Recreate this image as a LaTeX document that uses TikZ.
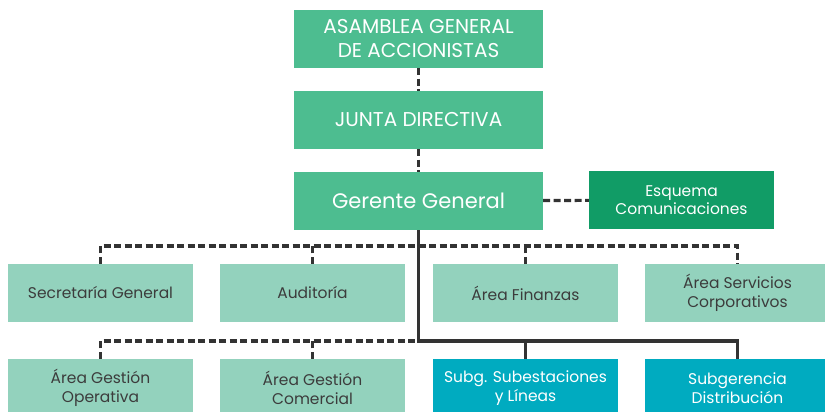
\documentclass[tikz,border=0pt]{standalone}
\usepackage{fontspec}
\setmainfont{Poppins}
\usetikzlibrary{positioning}

\definecolor{verde}{HTML}{4DBD90}
\definecolor{verdeosc}{HTML}{119C66}
\definecolor{verdecl}{HTML}{93D2BD}
\definecolor{turq}{HTML}{00ABC0}
\definecolor{linea}{HTML}{333333}
\definecolor{texto}{HTML}{3C3C3C}

\begin{document}
\begin{tikzpicture}
            [x=1pt,y=-1pt,node distance=81pt,
             caja/.style={rectangle,minimum width=249pt,minimum height=58pt,inner sep=0pt,
                          align=center,fill=verde,text=white,font=\fontsize{20}{24}\selectfont},
             area/.style={rectangle,minimum width=185pt,minimum height=58pt,inner sep=0pt,
                          align=center,fill=verdecl,text=texto,font=\fontsize{15.5}{19}\selectfont},
             subg/.style={area,fill=turq,text=white},
             dline/.style={draw=linea,line width=3.2pt,dash pattern=on 7pt off 3.5pt},
             sline/.style={draw=linea,line width=3.2pt}]

            \useasboundingbox (0,0) rectangle (825,412);
            \clip (0,0) rectangle (825,412);

            % direccion
            \node (asa) [caja] at (418.5,39) {ASAMBLEA GENERAL\\DE ACCIONISTAS};
            \node (jun) [caja,below of=asa] {JUNTA DIRECTIVA};
            \node (ger) [caja,below of=jun,font=\fontsize{21}{24}\selectfont] {Gerente General};
            \node (esq) [caja,minimum width=185pt,fill=verdeosc,font=\fontsize{15.5}{18}\selectfont]
                  at (681.5,200) {Esquema\\Comunicaciones};

            % areas
            \node (sec) [area] at (100.5,293) {Secretaría General};
            \node (aud) [area] at (312.5,293) {Auditoría};
            \node (fin) [area] at (525.5,293) {Área Finanzas};
            \node (ser) [area] at (737.5,293) {Área Servicios\\Corporativos};

            \node (ope) [area] at (100.5,388) {Área Gestión\\Operativa};
            \node (com) [area] at (312.5,388) {Área Gestión\\Comercial};
            \node (sub) [subg] at (525.5,388) {Subg. Subestaciones\\y Líneas};
            \node (dis) [subg] at (737.5,388) {Subgerencia\\Distribución};

            \coordinate (b1) at (418.5,246);
            \coordinate (b2) at (418.5,341);

            % lineas
            \path[dline] (asa) -- (jun);
            \path[dline] (jun) -- (ger);
            \path[dline] (ger) -- (esq);
            \path[dline] (sec.north) |- (b1) -| (ser.north);
            \path[dline] (aud.north) -- (aud.north |- b1);
            \path[dline] (fin.north) -- (fin.north |- b1);
            \path[dline] (ope.north) |- (b2);
            \path[dline] (com.north) -- (com.north |- b2);
            \path[sline] (ger.south) |- (b2) -| (dis.north);
            \path[sline] (sub.north) -- (sub.north |- b2);
        \end{tikzpicture}
\end{document}
